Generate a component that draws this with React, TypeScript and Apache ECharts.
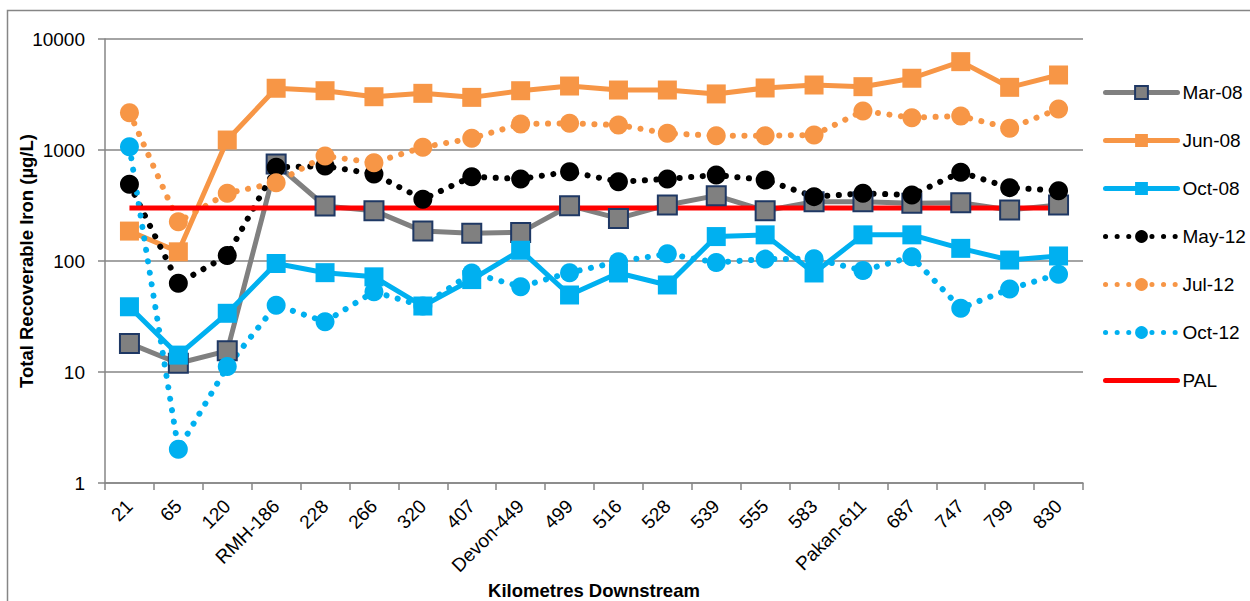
import React, { useEffect, useRef } from 'react';
import * as echarts from 'echarts';

const categories = ['21', '65', '120', 'RMH-186', '228', '266', '320', '407', 'Devon-449', '499', '516', '528', '539', '555', '583', 'Pakan-611', '687', '747', '799', '830'];

const mar08 = [18.1, 12, 15.5, 748, 313, 284, 186, 178, 181, 315, 242, 320, 388, 284, 342, 342, 331, 335, 288, 320];
const jun08 = [186, 121, 1230, 3600, 3420, 3020, 3240, 2980, 3420, 3770, 3470, 3470, 3200, 3620, 3850, 3720, 4430, 6250, 3670, 4740];
const oct08 = [38.7, 14.2, 33.8, 95, 78.5, 72, 39.3, 68, 125, 49.4, 78, 60.8, 166, 172, 78, 172, 172, 130, 102, 111];
const may12 = [491, 63, 112, 698, 718, 608, 360, 575, 548, 638, 518, 548, 595, 537, 380, 407, 393, 630, 458, 430];
const jul12 = [2170, 226, 407, 508, 883, 769, 1057, 1274, 1715, 1740, 1680, 1414, 1346, 1346, 1365, 2245, 1955, 2025, 1568, 2340];
const oct12 = [1070, 2.01, 11.2, 40, 28.4, 52.9, 39.3, 78, 58.7, 78.5, 98.6, 116, 97, 104, 105, 82, 109, 37.5, 56, 76];
const pal = [300, 300, 300, 300, 300, 300, 300, 300, 300, 300, 300, 300, 300, 300, 300, 300, 300, 300, 300, 300];

const xTitle = 'Kilometres Downstream';
const yTitle = 'Total Recoverable Iron (µg/L)';

const FONT = "'Liberation Sans', Arial, sans-serif";
const GRAY = '#868686';
const ORANGE = '#F79646';
const CYAN = '#00B0F0';
const DOTS = [0.1, 11.5];

const solid = (name: string, data: number[], color: string, symbolStyle: any) => ({
  name,
  type: 'line',
  data,
  symbol: 'rect',
  symbolSize: 19,
  lineStyle: { color, width: 5, type: 'solid' },
  itemStyle: symbolStyle,
});

const dotted = (name: string, data: number[], color: string) => ({
  name,
  type: 'line',
  data,
  symbol: 'circle',
  symbolSize: 19,
  lineStyle: { color, width: 6, type: DOTS, cap: 'round' },
  itemStyle: { color },
});

export default function App() {
  const ref = useRef<HTMLDivElement>(null);
  useEffect(() => {
    const chart = echarts.init(ref.current!, null, { renderer: 'svg' });
    chart.setOption({
      animation: false,
      backgroundColor: '#fff',
      textStyle: { fontFamily: FONT },
      graphic: [
        {
          type: 'rect',
          shape: { x: 7.5, y: 10.5, width: 1400, height: 800 },
          style: { fill: 'none', stroke: GRAY, lineWidth: 1.5 },
          silent: true,
        },
        {
          type: 'text',
          x: 594,
          y: 590,
          style: {
            text: xTitle,
            fontSize: 18.5,
            fontWeight: 'bold',
            fontFamily: FONT,
            fill: '#000',
            align: 'center',
            verticalAlign: 'middle',
          },
        },
        {
          type: 'text',
          x: 26,
          y: 261,
          rotation: Math.PI / 2,
          style: {
            text: yTitle,
            fontSize: 18.5,
            fontWeight: 'bold',
            fontFamily: FONT,
            fill: '#000',
            align: 'center',
            verticalAlign: 'middle',
          },
        },
      ],
      grid: { left: 105, top: 39, right: 167, bottom: 118, containLabel: false },
      legend: {
        orient: 'vertical',
        left: 1103,
        top: 83,
        padding: 0,
        itemWidth: 72,
        itemHeight: 16,
        itemGap: 29,
        lineStyle: { width: 5, cap: 'round' },
        textStyle: { fontSize: 19, color: '#000', fontFamily: FONT },
        data: [
          { name: 'Mar-08' },
          { name: 'Jun-08' },
          { name: 'Oct-08' },
          { name: 'May-12', lineStyle: { width: 5, type: DOTS, cap: 'round' } },
          { name: 'Jul-12', lineStyle: { width: 5, type: DOTS, cap: 'round' } },
          { name: 'Oct-12', lineStyle: { width: 5, type: DOTS, cap: 'round' } },
          { name: 'PAL', itemStyle: { opacity: 0 } },
        ],
      },
      xAxis: {
        type: 'category',
        data: categories,
        boundaryGap: true,
        axisLine: { lineStyle: { color: GRAY, width: 1.5 } },
        axisTick: { show: true, alignWithLabel: false, interval: 0, length: 7, lineStyle: { color: GRAY, width: 1.5 } },
        axisLabel: { interval: 0, rotate: 45, margin: 20, fontSize: 19, color: '#000', fontFamily: FONT },
        splitLine: { show: false },
      },
      yAxis: {
        type: 'log',
        logBase: 10,
        min: 1,
        max: 10000,
        axisLine: { show: true, lineStyle: { color: GRAY, width: 1.5 } },
        axisTick: { show: true, length: 7, lineStyle: { color: GRAY, width: 1.5 } },
        axisLabel: { margin: 20, fontSize: 19, color: '#000', fontFamily: FONT, formatter: (v: number) => String(Math.round(v)) },
        splitLine: { show: true, lineStyle: { color: GRAY, width: 1.5 } },
        minorTick: { show: false },
      },
      series: [
        solid('Mar-08', mar08, '#808080', { color: '#808080', borderColor: '#1F3864', borderWidth: 2 }),
        solid('Jun-08', jun08, ORANGE, { color: ORANGE }),
        solid('Oct-08', oct08, CYAN, { color: CYAN }),
        dotted('May-12', may12, '#000000'),
        dotted('Jul-12', jul12, ORANGE),
        dotted('Oct-12', oct12, CYAN),
        {
          name: 'PAL',
          type: 'line',
          data: pal,
          symbol: 'none',
          lineStyle: { color: '#FF0000', width: 5 },
          itemStyle: { color: '#FF0000' },
        },
      ],
    });
    return () => chart.dispose();
  }, []);
  return (
    <div
      ref={ref}
      style={{ position: 'absolute', left: 0, top: 0, width: 1250, height: 601, background: '#fff' }}
    />
  );
}
